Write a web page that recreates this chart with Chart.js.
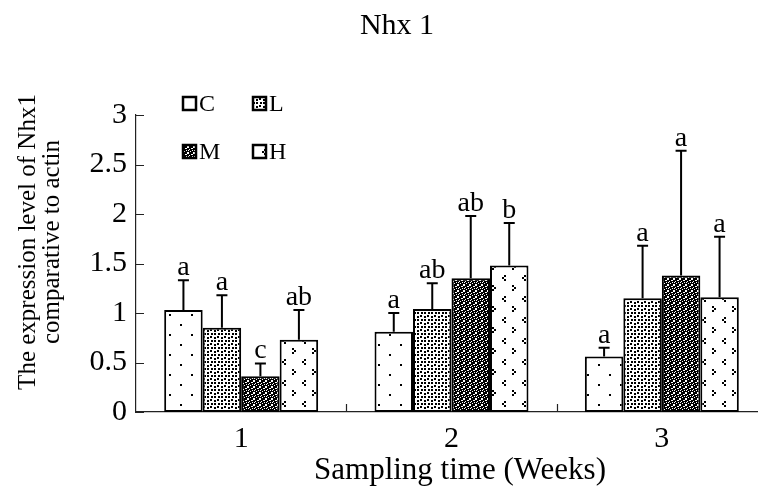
<!DOCTYPE html>
<html>
<head>
<meta charset="utf-8">
<script src="https://cdn.jsdelivr.net/npm/chart.js@4.4.1/dist/chart.umd.min.js"></script>
<style>
  body { margin: 0; background: #fff; overflow: hidden; }
  canvas { display: block; }
</style>
</head>
<body>
<canvas id="chart" width="780" height="488"></canvas>
<script>
// data
const weeks = ['1', '2', '3'];
const groups = ['C', 'L', 'M', 'H'];
const valC = [1.03, 0.81, 0.56];
const valL = [0.85, 1.04, 1.15];
const valM = [0.36, 1.35, 1.38];
const valH = [0.73, 1.48, 1.16];
const errC = [0.30, 0.19, 0.09];
const errL = [0.33, 0.26, 0.53];
const errM = [0.13, 0.63, 1.26];
const errH = [0.30, 0.43, 0.61];
const letC = ['a', 'a', 'a'];
const letL = ['a', 'ab', 'a'];
const letM = ['c', 'ab', 'a'];
const letH = ['ab', 'b', 'a'];
const yTicks = [0, 0.5, 1, 1.5, 2, 2.5, 3];

const serif = '"Liberation Serif", "Times New Roman", serif';

function makePattern(w, h, bg, draw) {
    const c = document.createElement('canvas');
    c.width = w;
    c.height = h;
    const g = c.getContext('2d');
    g.fillStyle = bg;
    g.fillRect(0, 0, w, h);
    g.fillStyle = bg === '#000' ? '#fff' : '#000';
    draw(g);
    return g.createPattern(c, 'repeat');
}

const patC = makePattern(22, 20, '#fff', g => {
    g.fillRect(4, 4, 2, 2);
    g.fillRect(15, 14, 2, 2);
});
const patL = makePattern(7, 7, '#fff', g => {
    g.fillRect(0, 0, 2, 2);
    g.fillRect(4, 1, 2, 2);
    g.fillRect(1, 4, 2, 2);
    g.fillRect(4, 4, 2, 2);
});
const patM = makePattern(6, 6, '#000', g => {
    g.fillRect(0, 0, 1, 1);
    g.fillRect(2, 0, 1, 1);
    g.fillRect(1, 2, 2, 2);
    g.fillRect(4, 1, 1, 1);
    g.fillRect(0, 4, 1, 1);
    g.fillRect(3, 5, 1, 1);
    g.fillRect(5, 4, 1, 1);
});
const patH = makePattern(20, 21, '#fff', g => {
    // "<"
    g.fillRect(4, 2, 2, 2);
    g.fillRect(2, 4, 2, 2);
    g.fillRect(4, 6, 2, 2);
    // ">"
    g.fillRect(12, 12, 2, 2);
    g.fillRect(14, 14, 2, 2);
    g.fillRect(12, 16, 2, 2);
});

const series = [valC, valL, valM, valH];
const errs = [errC, errL, errM, errH];
const letters = [letC, letL, letM, letH];
const pats = [patC, patL, patM, patH];

const extras = {
    id: 'extras',
    afterDatasetsDraw(chart) {
        const ctx = chart.ctx;
        const y = chart.scales.y;
        const x = chart.scales.x;
        const area = chart.chartArea;
        ctx.save();
        ctx.strokeStyle = '#000';
        ctx.fillStyle = '#000';

        // error bars + letters
        ctx.lineWidth = 2;
        ctx.font = '28px ' + serif;
        ctx.textAlign = 'center';
        ctx.textBaseline = 'alphabetic';
        chart.data.datasets.forEach((ds, i) => {
            chart.getDatasetMeta(i).data.forEach((bar, j) => {
                const top = y.getPixelForValue(ds.data[j] + errs[i][j]);
                ctx.beginPath();
                ctx.moveTo(bar.x, bar.y);
                ctx.lineTo(bar.x, top);
                ctx.moveTo(bar.x - 5.5, top);
                ctx.lineTo(bar.x + 5.5, top);
                ctx.stroke();
                ctx.fillText(letters[i][j], bar.x, top - 5);
            });
        });

        // inward tick marks
        ctx.lineWidth = 1.2;
        ctx.strokeStyle = '#222';
        ctx.beginPath();
        yTicks.forEach(v => {
            const py = Math.round(y.getPixelForValue(v)) + 0.5;
            ctx.moveTo(area.left, py);
            ctx.lineTo(area.left + 8, py);
        });
        for (let i = 0; i < weeks.length - 1; i++) {
            const px = Math.round((x.getPixelForValue(i) + x.getPixelForValue(i + 1)) / 2) + 0.5;
            ctx.moveTo(px, area.bottom);
            ctx.lineTo(px, area.bottom - 8);
        }
        ctx.stroke();

        // legend, 2 x 2
        const spots = [[183, 97], [253, 97], [183, 145], [253, 145]];
        ctx.font = '24px ' + serif;
        ctx.textAlign = 'left';
        ctx.textBaseline = 'alphabetic';
        groups.forEach((name, i) => {
            const [lx, ly] = spots[i];
            ctx.fillStyle = pats[i];
            ctx.fillRect(lx, ly, 13, 13);
            ctx.lineWidth = 2.5;
            ctx.strokeStyle = '#000';
            ctx.strokeRect(lx, ly, 13, 13);
            ctx.fillStyle = '#000';
            ctx.fillText(name, lx + 16, ly + 14);
        });

        // titles
        ctx.textAlign = 'center';
        ctx.font = '30px ' + serif;
        ctx.fillText('Nhx 1', 397, 34);
        ctx.font = '31px ' + serif;
        ctx.fillText('Sampling time (Weeks)', 460, 479);
        ctx.font = '25px ' + serif;
        ctx.textBaseline = 'middle';
        ctx.translate(40, 242);
        ctx.rotate(-Math.PI / 2);
        ctx.fillText('The expression level of Nhx1', 0, -12);
        ctx.fillText('comparative to actin', 0, 12);
        ctx.restore();
    }
};

new Chart(document.getElementById('chart'), {
    type: 'bar',
    data: {
        labels: weeks,
        datasets: groups.map((g, i) => ({
            label: g,
            data: series[i],
            backgroundColor: pats[i],
            borderColor: '#000',
            borderWidth: 2,
            borderSkipped: false,
            barPercentage: 1,
            categoryPercentage: 0.732,
        })),
    },
    options: {
        responsive: false,
        animation: false,
        devicePixelRatio: 1,
        layout: { padding: { top: 115, right: 13, left: 0, bottom: 0 } },
        plugins: {
            legend: { display: false },
            title: { display: false },
            tooltip: { enabled: false },
        },
        scales: {
            x: {
                grid: { display: false, drawTicks: false },
                border: { color: '#222', width: 1.2 },
                ticks: { color: '#000', padding: 9, font: { family: serif, size: 30 } },
                afterFit: s => { s.height = 76; },
            },
            y: {
                min: 0,
                max: 3,
                grid: { display: false, drawTicks: false },
                border: { color: '#222', width: 1.2 },
                ticks: {
                    color: '#000',
                    stepSize: 0.5,
                    padding: 9,
                    font: { family: serif, size: 30 },
                    callback: v => String(v),
                },
                afterFit: s => { s.width = 136; },
            },
        },
    },
    plugins: [extras],
});
</script>
</body>
</html>
